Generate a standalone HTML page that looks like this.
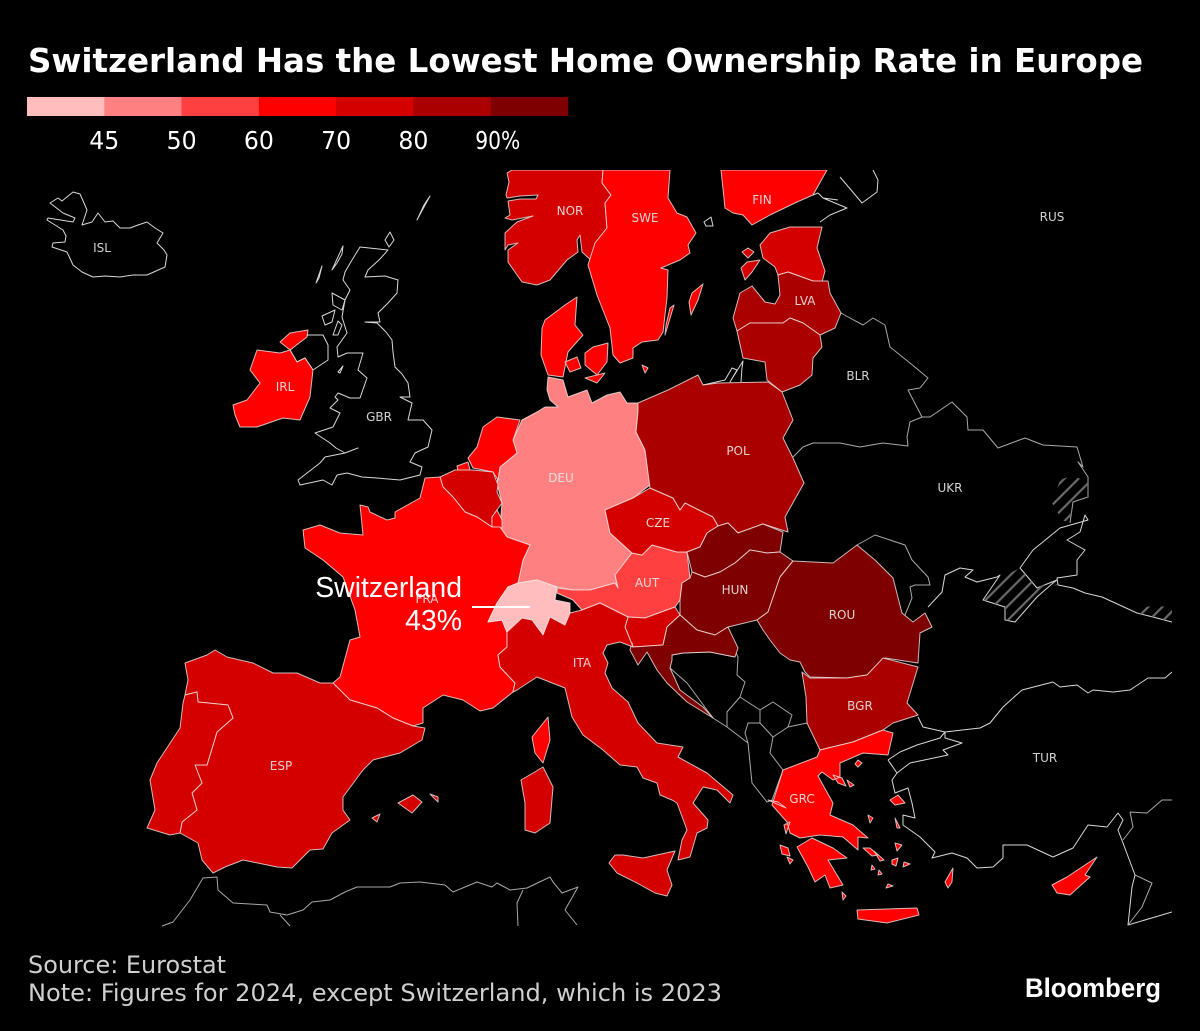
<!DOCTYPE html>
<html lang="en">
<head>
<meta charset="utf-8">
<title>Switzerland Has the Lowest Home Ownership Rate in Europe</title>
<style>
html,body{margin:0;padding:0;background:#000;width:1200px;height:1031px;overflow:hidden}
svg{display:block}
.land{stroke:#f0e6e6;stroke-opacity:.8;stroke-width:1;stroke-linejoin:round}
.line{fill:none;stroke:#d8d8d8;stroke-width:1;stroke-linejoin:round}
.dim{stroke:#a8a8a8}
.code{font-family:"DejaVu Sans","Liberation Sans",sans-serif;font-size:12px;fill:#e8e8e8;text-anchor:middle;fill-opacity:.9}
</style>
</head>
<body>
<svg id="chart" xmlns="http://www.w3.org/2000/svg" width="1200" height="1031" viewBox="0 0 1200 1031">
<defs>
<pattern id="hatch" patternUnits="userSpaceOnUse" width="10" height="10" patternTransform="rotate(45)">
<rect x="0" y="0" width="2.2" height="10" fill="#6a6a6a"/>
</pattern>
<clipPath id="map-clip"><rect x="0" y="170" width="1172" height="757"/></clipPath>
</defs>
<rect width="1200" height="1031" fill="#000"/>

<text x="28" y="72" font-family="'DejaVu Sans','Liberation Sans',sans-serif" font-weight="700" font-size="33" fill="#fff" textLength="1115" lengthAdjust="spacingAndGlyphs">Switzerland Has the Lowest Home Ownership Rate in Europe</text>

<g id="legend"></g>

<g clip-path="url(#map-clip)">
<!-- Non-data countries and coastlines -->
<g>
<path class="line" d="M50 203 58 198 62 201 73 192 80 194 84 203 87 210 82 225 92 222 98 213 105 222 113 221 120 228 130 228 138 225 147 222 155 228 163 233 157 243 164 250 167 255 165 267 156 271 147 275 133 275 120 277 105 276 93 277 82 272 73 265 67 252 52 247 53 243 65 242 66 236 63 230 47 220 48 218 73 222 75 218 63 213Z"/>
<path class="line" d="M360 247 388 250 380 259 368 270 365 277 385 276 398 280 397 293 388 303 378 313 380 322 365 322 377 323 386 332 392 340 393 352 395 367 402 374 408 383 410 397 400 397 412 403 408 420 423 420 432 430 428 447 415 453 410 462 422 467 420 475 400 480 377 478 362 477 347 473 337 475 332 485 323 480 300 485 298 480 320 463 325 457 345 453 358 448 345 453 336 448 330 443 315 433 333 427 340 413 330 408 338 400 335 397 338 393 350 398 360 398 367 378 358 370 363 353 347 353 338 357 337 347 347 333 342 317 345 300 350 290 343 280 345 272 352 260Z"/>
<path class="line" d="M308 335 323 335 328 345 328 360 313 370 305 358 297 362 290 350Z"/>
<path class="line" d="M332 270 343 246 342 254 337 263ZM316 283 322 266 319 278ZM332 293 345 300 342 310 333 305ZM322 316 335 310 332 322 325 325ZM333 335 338 321 342 325 338 335ZM338 372 343 366 340 373ZM418 218 430 196 424 205 417 220ZM385 240 390 232 394 240 389 247Z"/>
<path class="line" d="M813 195 818 193 823 198 847 208 830 215 820 222M823 198 838 200M840 177 857 197 862 203 877 192 878 180 873 170M704 222 711 217 713 226 706 226Z"/>
<path class="line dim" d="M841 313 850 318 863 325 873 318 885 325 890 347 910 363 928 378 920 388 908 390 922 417 910 422 907 437 908 446 883 443 860 447 840 443 813 443 803 447 793 457"/>
<path class="line dim" d="M922 417 930 417 952 402 967 417 968 430 983 430 998 448 1025 438 1043 445 1077 447 1083 467 1078 462 1088 477 1088 497 1073 502 1070 523"/>
<path class="line" d="M703 385 725 380 732 368 737 370 730 382 743 361 742 368 741 382"/>
<path class="line" d="M928 607 942 592 945 575 960 568 973 570 965 577 977 582 997 577 1000 575 983 600 1005 607 1005 620 1015 622 1037 597 1053 583 1057 580 1037 588 1020 568 1033 550 1060 528 1088 520 1085 515 1080 532 1067 540 1085 550 1077 560 1077 575 1057 578 1058 585 1073 588 1085 593 1102 597 1137 613 1153 617 1172 622"/>
<path class="line dim" d="M857 545 875 535 905 545 912 560 928 577 930 585 915 585 910 587 912 598 905 615"/>
<path class="line" d="M918 717 923 727 945 732 980 728 990 723 1003 707 1022 690 1053 682 1060 687 1077 685 1088 693 1093 690 1113 692 1130 690 1148 678 1165 678 1172 672"/>
<path class="line" d="M945 732 945 738 962 743 943 750 948 755 910 763 897 773 892 780 895 793 908 788 912 803 915 818 903 815 903 825 920 837 930 847 935 852 932 858 952 853 967 858 977 868 993 867 1003 858 1003 845 1027 845 1053 857 1073 848 1088 825 1107 827 1118 813 1123 820 1118 830 1123 843 1135 875 1132 887 1128 925 1172 912"/>
<path class="line" d="M888 760 900 752 917 745 940 738 945 732M888 760 897 773"/>
<path class="line dim" d="M1130 812 1133 827 1123 840M1130 812 1147 813 1162 800 1172 800M1135 875 1152 883 1142 907 1128 925"/>
<path class="line dim" d="M672 655 670 668 687 683 713 718 727 727 748 743 752 783 767 802 772 800 783 770M727 727 727 712 740 697 745 682 737 675 738 657 733 647 728 627M672 655 683 653 710 652 735 657M740 697 760 710 773 702 792 715 788 727 807 723 813 700 802 673M748 743 745 733 748 723 760 723 760 710M760 723 773 737 770 753 783 770M773 737 788 727"/>
<path class="line dim" d="M162 926 173 922 190 900 203 878 217 877 218 890 233 903 250 904 267 905 270 912 287 915 303 910 312 902 330 900 345 892 357 887 390 887 400 883 420 882 445 885 453 892 477 882 492 887 497 883 510 890 527 888 550 877 553 882 562 893 578 887 565 910 577 925M280 915 290 926M523 890 517 903 518 926"/>
<path class="land" style="fill:url(#hatch);stroke-opacity:0" d="M983 600 1000 575 1010 573 1020 568 1037 588 1053 580 1057 585 1040 593 1015 622 1005 620 1005 607Z"/>
<path class="land" style="fill:url(#hatch);stroke-opacity:0" d="M1060 480 1073 475 1088 483 1088 497 1073 502 1070 523 1062 520 1052 503Z"/>
<path class="land" style="fill:url(#hatch);stroke-opacity:0" d="M1137 608 1153 606 1172 607 1172 622 1153 617 1137 613Z"/>
</g>

<!-- Countries with data: filled from rates via colorFor() -->
<g id="countries">
<path class="land" data-iso="NOR" d="M512 170 507 173 509 182 506 195 507 198 520 196 538 195 536 199 520 199 508 201 510 215 505 218 512 220 533 216 517 222 505 233 505 250 508 245 518 243 508 250 508 262 522 282 537 285 550 280 567 260 578 252 577 240 580 235 582 252 593 262 595 243 607 228 605 203 611 195 602 183 603 170Z"/>
<path class="land" data-iso="SWE" d="M603 170 670 170 668 198 677 213 687 217 696 233 688 245 690 253 680 260 661 268 668 270 667 298 663 332 658 340 642 342 633 348 633 358 620 363 613 355 610 328 597 295 588 265 595 243 607 228 605 203 611 195 602 183ZM665 335 674 305 670 308 666 325ZM703 284 692 293 689 302 691 315 698 300Z"/>
<path class="land" data-iso="FIN" d="M721 170 725 208 733 213 743 215 752 225 770 215 797 202 813 195 827 170Z"/>
<path class="land" data-iso="EST" d="M760 245 770 233 790 227 822 227 817 248 825 271 822 282 813 281 788 272 778 275 775 267 763 258ZM741 268 747 262 760 260 752 272 745 280ZM742 252 748 248 754 252 748 258Z"/>
<path class="land" data-iso="LVA" d="M733 318 740 293 752 286 765 302 775 304 780 295 778 275 788 272 813 281 828 281 830 293 841 313 835 328 820 335 803 323 790 318 783 323 767 323 750 323 737 331Z"/>
<path class="land" data-iso="LTU" d="M737 331 750 323 767 323 783 323 790 318 803 323 820 335 822 347 813 358 812 375 800 385 782 392 767 380 765 362 743 358Z"/>
<path class="land" data-iso="DNK" d="M577 297 565 305 545 320 542 328 541 355 548 375 563 377 568 352 583 335 575 325ZM565 362 577 357 581 368 570 372ZM585 353 593 347 608 343 607 362 597 375 585 365ZM585 378 597 383 605 373ZM642 365 648 368 645 373Z"/>
<path class="land" data-iso="DEU" d="M548 377 563 380 568 397 587 390 592 403 607 395 620 392 627 403 638 403 638 412 636 432 645 450 650 485 633 498 605 510 610 533 632 553 615 575 618 588 615 583 590 590 573 590 557 587 537 580 518 583 523 560 530 545 507 537 500 527 502 503 497 483 500 467 517 453 513 440 522 420 537 412 545 407 558 407 550 400 547 390Z"/>
<path class="land" data-iso="NLD" d="M520 420 497 417 483 427 477 447 468 458 473 468 493 472 498 480 500 467 517 453 513 440ZM457 466 468 462 470 470 458 471Z"/>
<path class="land" data-iso="BEL" d="M440 477 455 470 473 470 493 472 498 485 497 492 502 503 492 517 492 527 477 517 465 512 453 497 443 487Z"/>
<path class="land" data-iso="LUX" d="M492 517 497 510 502 520 502 528 492 527Z"/>
<path class="land" data-iso="FRA" d="M440 477 425 478 420 498 395 512 395 518 387 520 370 512 368 507 360 505 363 535 340 533 320 525 303 530 305 548 323 560 343 577 355 610 360 637 350 640 340 677 333 683 350 700 377 708 393 718 413 726 423 723 423 708 443 695 463 700 480 711 493 708 513 692 515 683 500 667 498 655 507 647 507 632 502 620 488 622 497 603 508 587 518 583 523 560 530 545 507 537 500 527 492 527 477 517 465 512 453 497 443 487ZM548 717 550 740 543 763 535 753 532 737 540 727Z"/>
<path class="land" data-iso="CHE" d="M488 622 497 603 508 587 518 583 537 580 557 587 555 600 570 603 570 613 565 625 550 617 543 635 532 620 522 618 507 632 502 620Z"/>
<path class="land" data-iso="AUT" d="M557 588 573 590 590 590 615 583 618 588 615 575 632 553 642 555 652 545 677 552 687 552 690 578 682 583 680 600 675 607 645 618 628 617 600 603 582 610 573 600 557 593Z"/>
<path class="land" data-iso="CZE" d="M605 510 633 498 650 488 673 498 680 510 685 503 713 517 718 526 707 533 700 547 687 552 677 552 652 545 642 555 632 553 610 533Z"/>
<path class="land" data-iso="POL" d="M638 403 668 390 698 375 703 385 718 383 768 382 782 392 793 420 783 438 793 458 804 483 785 517 788 532 763 524 738 533 728 523 718 526 713 517 685 503 680 510 673 498 650 488 645 450 636 432 638 412Z"/>
<path class="land" data-iso="SVK" d="M718 526 728 523 738 533 763 524 783 532 780 552 767 553 750 550 735 563 720 572 705 577 692 572 687 552 700 547 707 533Z"/>
<path class="land" data-iso="HUN" d="M692 572 705 577 720 572 735 563 750 550 767 553 780 552 793 561 780 577 768 612 757 620 728 627 715 635 697 630 680 615 680 600 682 583 690 578Z"/>
<path class="land" data-iso="SVN" d="M628 617 645 618 675 607 680 615 667 627 663 645 633 647 625 627Z"/>
<path class="land" data-iso="HRV" d="M667 627 680 615 697 630 715 635 728 627 738 648 735 657 710 652 683 653 672 655 672 660 670 668 680 690 703 707 713 718 687 702 667 683 657 670 647 652 638 665 630 650 632 643 633 647 663 645Z"/>
<path class="land" data-iso="ROU" d="M793 561 833 563 857 545 875 560 893 578 902 613 913 622 925 613 932 627 920 633 918 663 885 658 867 675 847 678 810 677 805 672 800 662 790 660 780 653 770 640 763 630 757 620 768 612 780 577Z"/>
<path class="land" data-iso="BGR" d="M802 672 810 678 847 678 867 675 883 658 918 667 907 703 918 715 893 723 883 730 853 742 820 750 807 723 806 697Z"/>
<path class="land" data-iso="GRC" d="M820 750 853 742 883 730 893 733 888 755 863 753 840 763 840 777 833 780 822 772 818 776 833 803 830 815 853 825 868 838 858 837 858 850 843 837 820 835 800 838 790 833 787 822 772 805 783 770 817 757ZM797 847 812 838 833 848 847 858 828 860 843 885 830 888 825 875 815 882 808 867ZM857 910 917 908 919 915 887 923 858 919ZM890 800 898 795 905 803 895 805ZM895 818 900 828 897 828ZM945 882 953 868 952 882 948 888ZM858 760 862 763 858 767 855 764ZM833 775 842 778 846 786 838 783ZM847 780 854 785 850 787ZM778 802 786 808 768 800ZM780 845 788 848 790 856 782 854ZM787 857 793 860 790 864ZM784 825 790 822 786 834ZM868 815 873 818 870 823ZM863 848 870 848 878 855 872 856ZM874 851 884 860 880 861ZM895 843 902 845 897 851ZM904 862 910 864 903 867ZM892 860 898 858 896 866 892 864ZM872 865 875 869 871 870ZM879 870 882 874 878 875ZM888 884 893 886 886 888ZM842 892 846 896 843 900Z"/>
<path class="land" data-iso="ITA" d="M507 632 522 618 532 620 543 635 550 617 565 625 570 613 582 610 600 603 628 617 625 627 633 647 620 642 607 645 603 653 608 663 605 673 612 688 628 702 638 723 657 743 683 747 678 757 707 773 733 795 730 803 717 790 703 787 693 803 708 820 707 828 697 833 690 857 678 860 682 840 687 830 677 803 672 800 660 795 657 783 643 778 637 767 620 765 603 750 583 735 572 717 565 688 537 677 517 690 513 692 515 683 500 667 498 655 507 647ZM609 863 615 855 623 855 643 858 675 851 667 870 672 885 667 896 655 893 637 883 617 873ZM543 767 553 787 550 823 535 833 525 830 525 803 521 780 533 773Z"/>
<path class="land" data-iso="ESP" d="M185 663 207 655 215 650 227 657 253 663 273 673 297 673 320 683 333 683 350 700 377 708 393 718 413 726 425 728 422 740 400 753 373 760 363 770 343 797 343 810 350 820 332 833 323 849 310 850 292 868 277 867 243 860 225 867 213 873 202 860 198 843 180 833 182 822 197 810 192 793 202 783 195 765 207 765 217 732 233 718 228 705 198 702 197 692 185 695 188 680ZM398 803 413 795 422 802 412 813ZM430 794 438 797 438 802ZM372 818 380 814 377 822Z"/>
<path class="land" data-iso="PRT" d="M185 695 197 692 198 702 228 705 233 718 217 732 207 765 195 765 202 783 192 793 197 810 182 822 180 833 170 835 147 828 155 810 150 780 157 763 180 728 183 703Z"/>
<path class="land" data-iso="IRL" d="M233 405 247 400 260 383 250 370 257 350 280 353 290 350 280 342 290 333 308 330 307 337 290 350 297 362 305 358 313 370 310 397 300 420 283 418 257 427 240 427 235 415Z"/>
<path class="land" data-iso="CYP" d="M1052 885 1067 877 1097 857 1085 875 1090 877 1070 895 1057 893Z"/>
</g>
<line x1="472" y1="607" x2="530" y2="607" stroke="#fff" stroke-width="2"/>
</g>

<g id="country-codes">
<text class="code" x="102" y="252">ISL</text>
<text class="code" x="570" y="215">NOR</text>
<text class="code" x="645" y="222">SWE</text>
<text class="code" x="762" y="204">FIN</text>
<text class="code" x="805" y="305">LVA</text>
<text class="code" x="1052" y="221">RUS</text>
<text class="code" x="858" y="380">BLR</text>
<text class="code" x="285" y="391">IRL</text>
<text class="code" x="379" y="421">GBR</text>
<text class="code" x="561" y="482">DEU</text>
<text class="code" x="738" y="455">POL</text>
<text class="code" x="658" y="527">CZE</text>
<text class="code" x="950" y="492">UKR</text>
<text class="code" x="647" y="587">AUT</text>
<text class="code" x="735" y="594">HUN</text>
<text class="code" x="842" y="619">ROU</text>
<text class="code" x="427" y="603">FRA</text>
<text class="code" x="582" y="667">ITA</text>
<text class="code" x="281" y="770">ESP</text>
<text class="code" x="860" y="710">BGR</text>
<text class="code" x="802" y="803">GRC</text>
<text class="code" x="1045" y="762">TUR</text>
</g>

<text x="462" y="597" text-anchor="end" font-family="'Liberation Sans',sans-serif" font-size="28.4" fill="#fff">Switzerland</text>
<text id="che-value" x="462" y="630" text-anchor="end" font-family="'Liberation Sans',sans-serif" font-size="28.4" fill="#fff"></text>

<text x="28" y="973" font-family="'DejaVu Sans','Liberation Sans',sans-serif" font-size="24" fill="#cfcfcf" textLength="198" lengthAdjust="spacingAndGlyphs">Source: Eurostat</text>
<text x="28" y="1001" font-family="'DejaVu Sans','Liberation Sans',sans-serif" font-size="24" fill="#cfcfcf" textLength="694" lengthAdjust="spacingAndGlyphs">Note: Figures for 2024, except Switzerland, which is 2023</text>
<text x="1025" y="997" font-family="'Liberation Sans',sans-serif" font-weight="700" font-size="27" fill="#fff" textLength="136" lengthAdjust="spacingAndGlyphs">Bloomberg</text>
</svg>

<script>
const countryCodes = ['CHE','DEU','AUT','FRA','DNK','NLD','SWE','IRL','FIN','LUX','GRC','CYP','NOR','ESP','PRT','ITA','BEL','CZE','EST','SVN','LVA','LTU','POL','BGR','HRV','HUN','SVK','ROU'];
const ownershipRates = [43,47,54,63,60,69,64,69,69,68,69,68,79,75,75,75,71,75,78,75,82,86,87,86,91,92,93,94];
const legendBreaks = [45,50,60,70,80,90];
const legendLabels = ['45','50','60','70','80','90%'];
const legendColors = ['#ffbdbd','#ff8080','#ff4040','#ff0000','#d40000','#aa0000','#7f0000'];

function colorFor(value) {
  let i = 0;
  while (i < legendBreaks.length && value >= legendBreaks[i]) i++;
  return legendColors[i];
}

const svgNS = 'http://www.w3.org/2000/svg';
const legendX = 27, legendY = 97, legendSwatchW = 541 / legendColors.length, legendH = 19;
const legendGroup = document.getElementById('legend');

legendColors.forEach(function (color, i) {
  const r = document.createElementNS(svgNS, 'rect');
  r.setAttribute('x', legendX + i * legendSwatchW);
  r.setAttribute('y', legendY);
  r.setAttribute('width', legendSwatchW + 0.3);
  r.setAttribute('height', legendH);
  r.setAttribute('fill', color);
  
  
  legendGroup.appendChild(r);
});

legendLabels.forEach(function (label, i) {
  const t = document.createElementNS(svgNS, 'text');
  const isPct = label.indexOf('%') >= 0;
  t.setAttribute('x', legendX + (i + 1) * legendSwatchW + (isPct ? 7 : 0));
  t.setAttribute('y', 149);
  t.setAttribute('text-anchor', 'middle');
  t.setAttribute('font-family', '"DejaVu Sans","Liberation Sans",sans-serif');
  t.setAttribute('font-size', '25');
  t.setAttribute('fill', '#fff');
  t.setAttribute('textLength', isPct ? 45 : 30);
  t.setAttribute('lengthAdjust', 'spacingAndGlyphs');
  
  
  t.textContent = label;
  legendGroup.appendChild(t);
});

countryCodes.forEach(function (code, i) {
  const shape = document.querySelector('[data-iso="' + code + '"]');
  if (shape) shape.setAttribute('fill', colorFor(ownershipRates[i]));
});

document.getElementById('che-value').textContent = ownershipRates[countryCodes.indexOf('CHE')] + '%';
</script>
</body>
</html>
